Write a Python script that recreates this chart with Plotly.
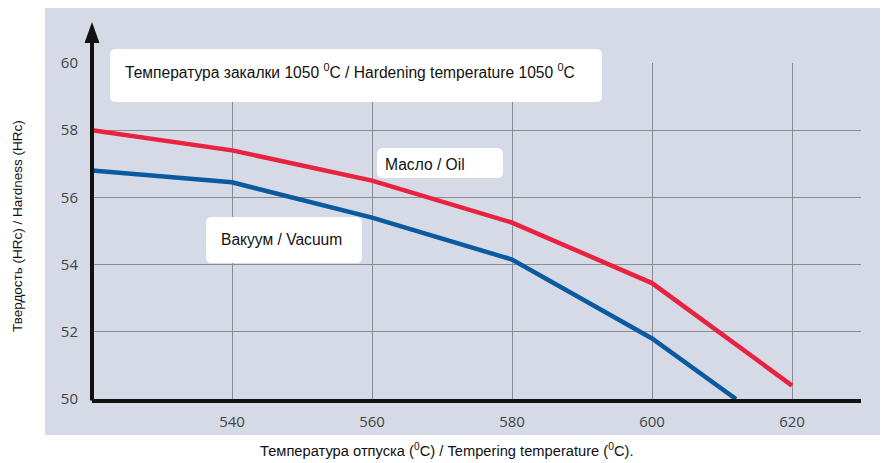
import plotly.graph_objects as go

# ---- data ----
temper_oil = [520, 540, 560, 580, 600, 620]
hardness_oil = [58.0, 57.4, 56.5, 55.25, 53.45, 50.4]
temper_vac = [520, 540, 560, 580, 600, 612]
hardness_vac = [56.8, 56.45, 55.4, 54.15, 51.8, 50.0]
x_ticks = [540, 560, 580, 600, 620]
y_ticks = [50, 52, 54, 56, 58, 60]
label_oil = "Масло / Oil"
label_vac = "Вакуум / Vacuum"
label_top = "Температура закалки 1050 <sup>0</sup>C / Hardening temperature 1050 <sup>0</sup>C"
x_title = "Температура отпуска (<sup>0</sup>C) / Tempering temperature (<sup>0</sup>C)."
y_title = "Твердость (HRc) / Hardness (HRc)"

# page offset (body margin) compensation
OFF = 8
W, H = 888 - OFF, 463 - OFF
# reference pixel geometry of plot area
RX0, RX1, RY0, RY1 = 92, 861, 63, 399
L, T = RX0 - OFF, RY0 - OFF
R = W - (RX1 - OFF)
B = H - (RY1 - OFF)
PW, PH = RX1 - RX0, RY1 - RY0

def px(x):
    return (x - RX0) / PW

def py(y):
    return (RY1 - y) / PH

BG = "#d5dae6"
GRID = "#8a8c93"
RED = "#e8223f"
BLUE = "#0a5aa0"
FONT = "Liberation Sans, Arial, sans-serif"

fig = go.Figure()
fig.add_trace(go.Scatter(x=temper_oil, y=hardness_oil, mode="lines",
                         line=dict(color=RED, width=4.5), cliponaxis=False))
fig.add_trace(go.Scatter(x=temper_vac, y=hardness_vac, mode="lines",
                         line=dict(color=BLUE, width=4.5), cliponaxis=False))

def rrect(x0, y0, x1, y1, r=6):
    a0, a1 = px(x0), px(x1)
    b0, b1 = py(y0), py(y1)  # b0 top (larger), b1 bottom
    rx, ry = r / PW, r / PH
    return (f"M{a0+rx},{b0} L{a1-rx},{b0} Q{a1},{b0} {a1},{b0-ry} "
            f"L{a1},{b1+ry} Q{a1},{b1} {a1-rx},{b1} L{a0+rx},{b1} "
            f"Q{a0},{b1} {a0},{b1+ry} L{a0},{b0-ry} Q{a0},{b0} {a0+rx},{b0} Z")

shapes = [
    dict(type="rect", xref="paper", yref="paper", x0=px(45), x1=px(885),
         y0=py(435), y1=py(7), fillcolor=BG, line=dict(width=0), layer="below"),
    # y axis shaft
    dict(type="line", xref="paper", yref="paper", x0=0, x1=0, y0=py(400.5), y1=py(38),
         line=dict(color="#111111", width=4), layer="above"),
    # arrow head
    dict(type="path", xref="paper", yref="paper",
         path=f"M{px(92)},{py(22)} L{px(84.5)},{py(43)} L{px(99.5)},{py(43)} Z",
         fillcolor="#111111", line=dict(width=0), layer="above"),
]
for (x0, y0, x1, y1) in [(110, 49, 602, 102), (377, 148, 503, 178), (206, 217, 362, 263)]:
    shapes.append(dict(type="path", xref="paper", yref="paper", path=rrect(x0, y0, x1, y1),
                       fillcolor="white", line=dict(width=0), layer="above"))

BOXFONT = dict(family=FONT, size=15.6, color="#111111")
annotations = [
    dict(text=label_top, x=px(123), y=py(71), xref="paper", yref="paper",
         xanchor="left", yanchor="middle", showarrow=False, font=BOXFONT),
    dict(text=label_oil, x=px(383), y=py(164), xref="paper", yref="paper",
         xanchor="left", yanchor="middle", showarrow=False, font=BOXFONT),
    dict(text=label_vac, x=px(219), y=py(239), xref="paper", yref="paper",
         xanchor="left", yanchor="middle", showarrow=False, font=BOXFONT),
    dict(text=x_title, x=px(447), y=py(450), xref="paper", yref="paper",
         xanchor="center", yanchor="middle", showarrow=False,
         font=dict(family=FONT, size=14.7, color="#111111")),
    dict(text=y_title, x=px(17), y=py(226), xref="paper", yref="paper",
         xanchor="center", yanchor="middle", showarrow=False, textangle=-90,
         font=dict(family=FONT, size=13.5, color="#111111")),
]

fig.update_layout(
    width=W, height=H,
    margin=dict(l=L, r=R, t=T, b=B, autoexpand=False),
    paper_bgcolor="white", plot_bgcolor=BG,
    showlegend=False,
    shapes=shapes, annotations=annotations,
    xaxis=dict(range=[520, 520 + PW / 7.0], tickvals=x_ticks, showgrid=True,
               gridcolor=GRID, gridwidth=1.3, zeroline=False,
               showline=True, linecolor="#111111", linewidth=3.5,
               ticks="", ticklabelstandoff=6,
               tickfont=dict(family="Open Sans, sans-serif", size=15, color="#444444")),
    yaxis=dict(range=[50, 60], tickvals=y_ticks, showgrid=True,
               gridcolor=GRID, gridwidth=1.3, zeroline=False,
               showline=False, ticks="", ticklabelstandoff=13,
               tickfont=dict(family="Open Sans, sans-serif", size=15, color="#444444")),
)

fig.write_html("out.html")
